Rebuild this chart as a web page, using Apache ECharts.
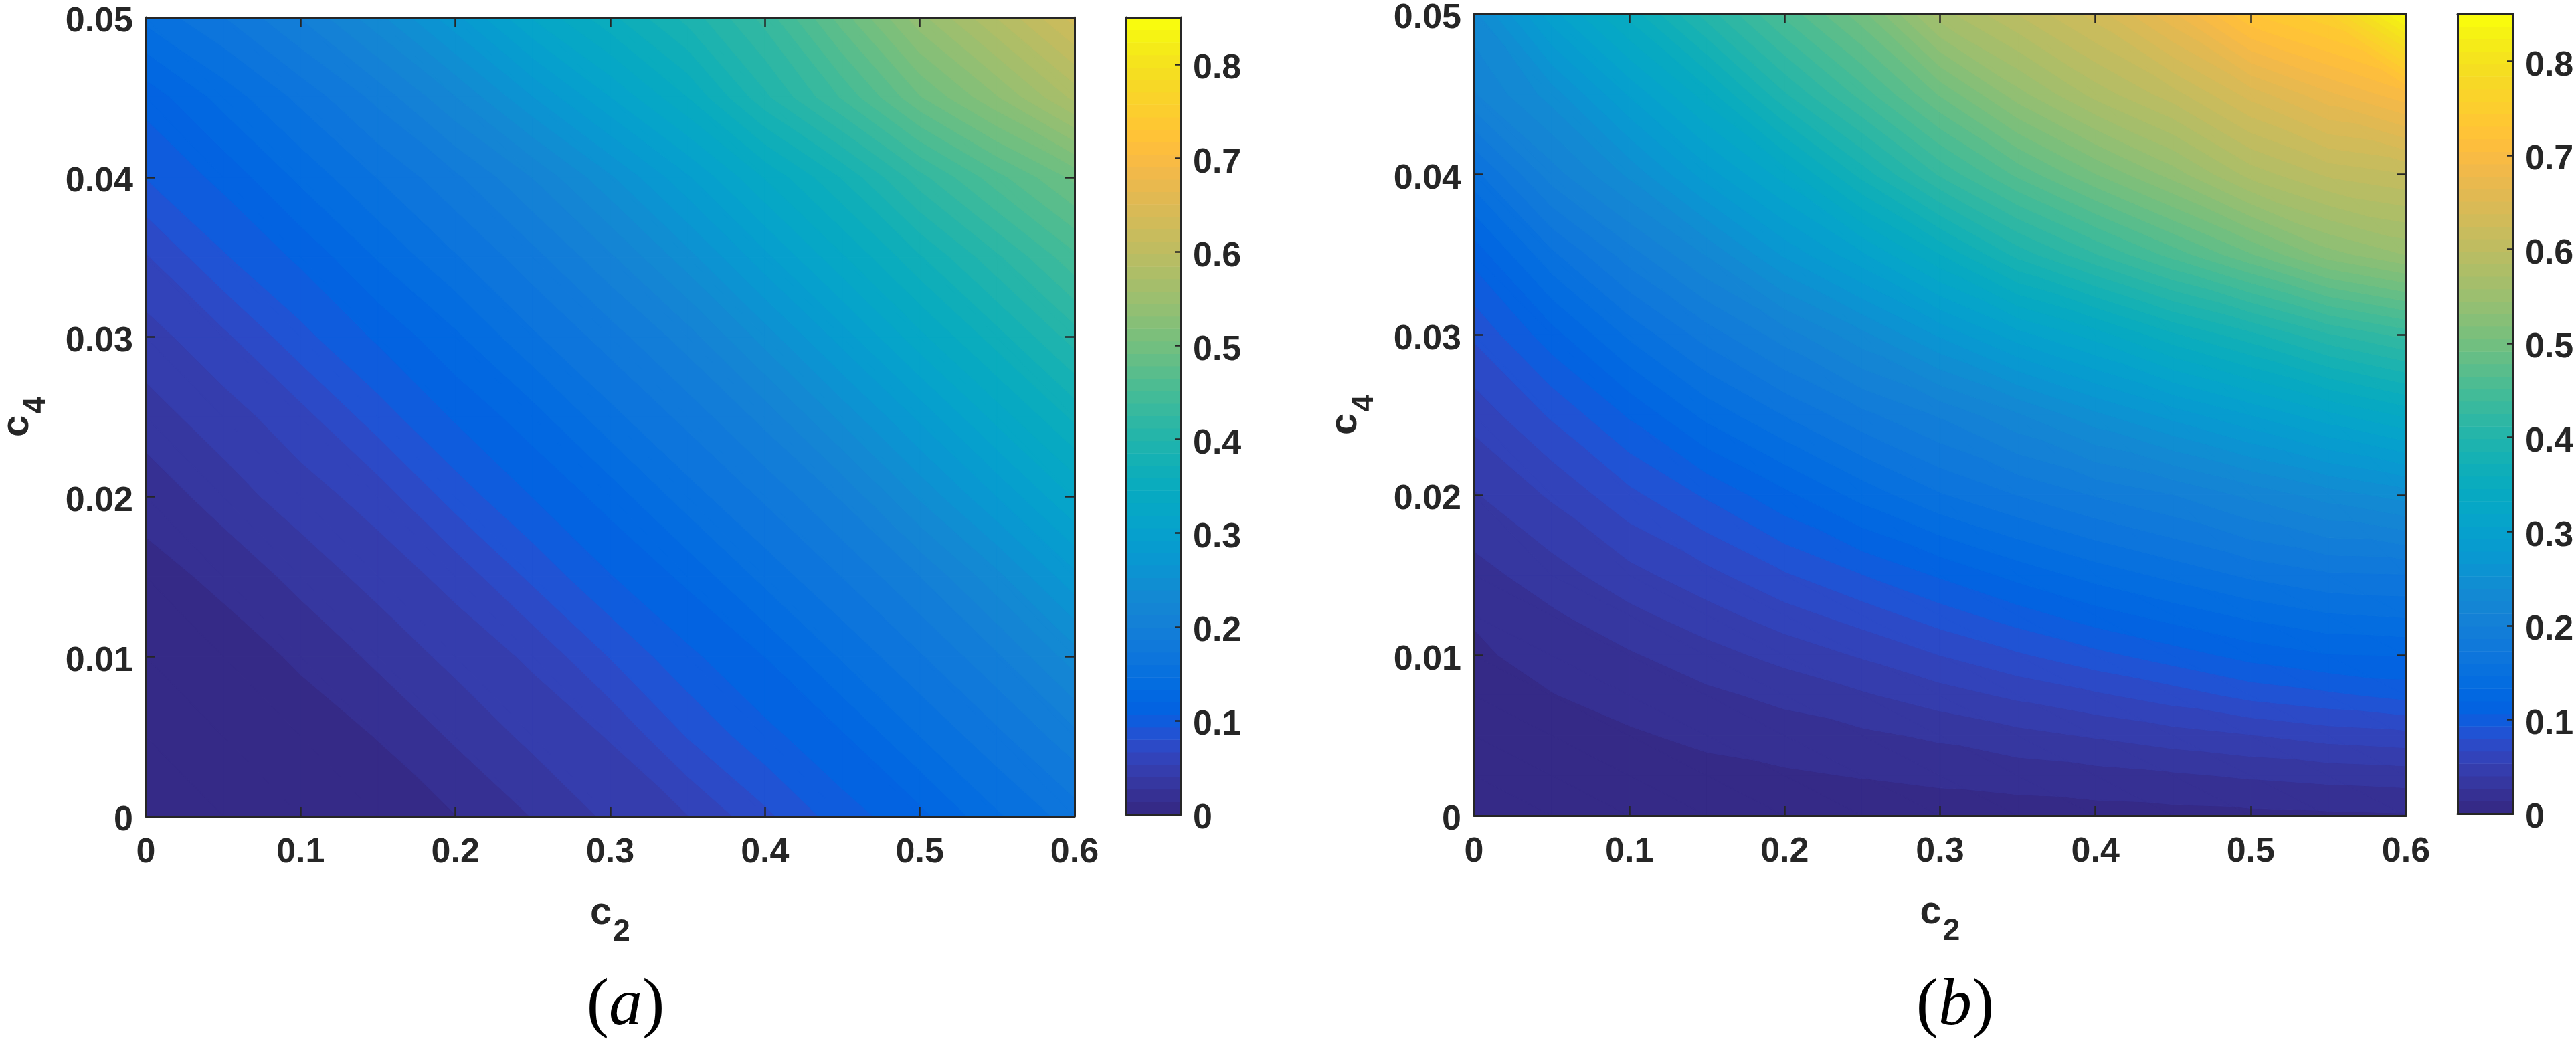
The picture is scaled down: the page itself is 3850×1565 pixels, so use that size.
<!DOCTYPE html>
<html><head><meta charset="utf-8"><title>c2 c4 contour maps</title>
<style>html,body{margin:0;padding:0;background:#fff}#chart{width:3850px;height:1565px}</style>
<script src="https://cdn.jsdelivr.net/npm/echarts@6/dist/echarts.min.js"></script>
</head><body><div id="chart"></div>
<script>
// Grid nodes of both maps
const c2Values = [0,0.05,0.1,0.15,0.2,0.25,0.3,0.35,0.4,0.45,0.5,0.55,0.6];
const c4ValuesA = [0,0.005,0.01,0.015,0.02,0.025,0.03,0.035,0.04,0.045,0.05];
const c4ValuesB = [0,0.0025,0.005,0.0075,0.01,0.0125,0.015,0.02,0.025,0.03,0.035,0.04,0.045,0.05];
// Tick labels
const c2Ticks = [0,0.1,0.2,0.3,0.4,0.5,0.6];
const c4Ticks = [0,0.01,0.02,0.03,0.04,0.05];
const barTicks = [0,0.1,0.2,0.3,0.4,0.5,0.6,0.7,0.8];
const barMax = 0.85;
// Panel (a): one row per c4 value
const a00 = [0,.002,.0037,.0081,.0129,.0271,.0426,.0526,.0763,.1004,.115,.144,.166];
const a05 = [.002,.004,.0085,.0136,.0286,.0434,.054,.0803,.102,.1175,.146,.169,.195];
const a10 = [.004,.0085,.0147,.0298,.0441,.0556,.0804,.103,.1197,.148,.171,.197,.233];
const a15 = [.0095,.0156,.0313,.0451,.0576,.0829,.1054,.1227,.1505,.173,.199,.235,.275];
const a20 = [.0171,.0333,.0468,.0589,.0855,.1065,.125,.153,.175,.201,.241,.279,.32];
const a25 = [.034,.0468,.0613,.0866,.108,.127,.155,.177,.204,.243,.282,.324,.362];
const a30 = [.0474,.0632,.0888,.1085,.13,.157,.179,.206,.245,.285,.328,.366,.405];
const a35 = [.065,.0915,.109,.134,.158,.181,.21,.247,.288,.33,.37,.409,.448];
const a40 = [.0934,.11,.136,.16,.183,.213,.25,.29,.333,.373,.42,.46,.495];
const a45 = [.111,.138,.163,.19,.225,.265,.305,.345,.395,.44,.49,.53,.575];
const a50 = [.15,.172,.20,.235,.275,.32,.355,.39,.43,.485,.54,.585,.63];
const fieldA = [a00,a05,a10,a15,a20,a25,a30,a35,a40,a45,a50];
const b000 = [0,.001,.002,.003,.004,.005,.006,.007,.008,.009,.010,.011,.012];
const b025 = [.0028,.005,.007,.0093,.0115,.014,.0166,.019,.0217,.0246,.0283,.031,.033];
const b050 = [.0055,.0084,.0117,.0162,.0201,.0239,.0288,.0357,.0412,.0474,.0525,.0588,.062];
const b075 = [.0083,.0128,.0182,.0236,.030,.038,.047,.0558,.064,.073,.0837,.09,.097];
const b100 = [.011,.0183,.025,.0345,.0444,.0546,.0664,.0777,.0888,.0998,.111,.1187,.12];
const b125 = [.0145,.0245,.036,.0476,.0607,.0727,.0866,.10,.1137,.125,.136,.1447,.148];
const b150 = [.0214,.0338,.0483,.0622,.078,.0926,.108,.124,.138,.15,.162,.1706,.172];
const b200 = [.0386,.055,.076,.095,.116,.138,.158,.173,.187,.199,.216,.232,.245];
const b250 = [.058,.0816,.108,.137,.16,.182,.201,.224,.249,.271,.2925,.315,.335];
const b300 = [.082,.114,.149,.179,.206,.235,.268,.30,.325,.356,.381,.41,.43];
const b350 = [.111,.156,.193,.227,.268,.303,.345,.39,.424,.457,.49,.525,.545];
const b400 = [.1545,.206,.242,.2855,.325,.377,.427,.468,.504,.537,.576,.60,.61];
const b450 = [.211,.245,.294,.339,.3965,.444,.493,.539,.576,.605,.643,.674,.70];
const b500 = [.235,.30,.35,.405,.455,.50,.565,.598,.63,.675,.73,.755,.845];
const fieldB = [b000,b025,b050,b075,b100,b125,b150,b200,b250,b300,b350,b400,b450,b500];
// Colour table
const parula = [[.2081,.1663,.5292],[.2116,.1898,.5777],[.2123,.2138,.6270],[.2081,.2386,.6771],[.1959,.2645,.7279],[.1707,.2919,.7792],[.1253,.3242,.8303],[.0591,.3598,.8683],[.0117,.3875,.8820],[.0060,.4086,.8828],[.0165,.4266,.8786],[.0329,.4430,.8720],[.0498,.4586,.8641],[.0629,.4737,.8554],[.0723,.4887,.8467],[.0779,.5040,.8384],[.0793,.5200,.8312],[.0749,.5375,.8263],[.0641,.5570,.8240],[.0488,.5772,.8228],[.0343,.5966,.8199],[.0265,.6137,.8135],[.0239,.6287,.8038],[.0231,.6418,.7913],[.0228,.6535,.7768],[.0267,.6642,.7607],[.0384,.6743,.7436],[.0590,.6838,.7254],[.0843,.6928,.7062],[.1133,.7015,.6859],[.1453,.7098,.6646],[.1801,.7177,.6424],[.2178,.7250,.6193],[.2586,.7317,.5954],[.3022,.7376,.5712],[.3482,.7424,.5473],[.3953,.7459,.5244],[.4420,.7481,.5033],[.4871,.7491,.4840],[.5300,.7491,.4661],[.5709,.7485,.4494],[.6099,.7473,.4337],[.6473,.7456,.4188],[.6834,.7435,.4044],[.7184,.7411,.3905],[.7525,.7384,.3768],[.7858,.7356,.3633],[.8185,.7327,.3498],[.8507,.7299,.3360],[.8824,.7274,.3217],[.9139,.7258,.3063],[.9450,.7261,.2886],[.9739,.7314,.2666],[.9938,.7455,.2403],[.9990,.7653,.2164],[.9955,.7861,.1967],[.9880,.8066,.1794],[.9789,.8271,.1633],[.9697,.8481,.1475],[.9626,.8705,.1309],[.9589,.8949,.1132],[.9598,.9218,.0948],[.9661,.9514,.0755],[.9763,.9831,.0538]];
const colours = parula.map(c => 'rgb(' + c.map(x => Math.round(x * 255)).join(',') + ')');
const bandWidth = barMax / colours.length;

// Cells of a field: corners and their four node values
function cellsOf(field, c4s) {
  const out = [];
  for (let j = 0; j + 1 < c4s.length; j++)
    for (let i = 0; i + 1 < c2Values.length; i++)
      out.push([c2Values[i], c4s[j], c2Values[i + 1], c4s[j + 1],
        field[j][i], field[j][i + 1], field[j + 1][i], field[j + 1][i + 1]]);
  return out;
}
// Keep the part of a polygon (points [x,y,v]) on one side of a level
function clip(poly, level, keepAbove) {
  const res = [];
  for (let n = 0; n < poly.length; n++) {
    const p = poly[n], q = poly[(n + 1) % poly.length];
    const pIn = keepAbove ? p[2] >= level : p[2] <= level;
    const qIn = keepAbove ? q[2] >= level : q[2] <= level;
    if (pIn) res.push(p);
    if (pIn !== qIn) {
      const t = (level - p[2]) / (q[2] - p[2]);
      res.push([p[0] + t * (q[0] - p[0]), p[1] + t * (q[1] - p[1]), level]);
    }
  }
  return res;
}
function renderCell(params, api) {
  const x0 = api.value(0), y0 = api.value(1), x1 = api.value(2), y1 = api.value(3);
  const A = [x0, y0, api.value(4)], B = [x1, y0, api.value(5)], C = [x0, y1, api.value(6)], D = [x1, y1, api.value(7)];
  const children = [];
  [[A, B, C], [B, D, C]].forEach(tri => {
    const vs = tri.map(p => p[2]);
    const lo = Math.max(0, Math.floor(Math.min.apply(null, vs) / bandWidth));
    const hi = Math.min(colours.length - 1, Math.floor(Math.max.apply(null, vs) / bandWidth));
    for (let k = lo; k <= hi; k++) {
      let poly = tri;
      if (k > 0) poly = clip(poly, k * bandWidth, true);
      if (k < colours.length - 1 && poly.length) poly = clip(poly, (k + 1) * bandWidth, false);
      if (poly.length < 3) continue;
      children.push({ type: 'polygon', silent: true,
        shape: { points: poly.map(p => api.coord([p[0], p[1]])) },
        style: { fill: colours[k], stroke: colours[k], lineWidth: 1.2 } });
    }
  });
  return { type: 'group', children };
}
function renderStripe(params, api) {
  const k = api.value(0);
  const a = api.coord([0, k * bandWidth]), b = api.coord([1, (k + 1) * bandWidth]);
  return { type: 'rect', silent: true,
    shape: { x: a[0], y: b[1], width: b[0] - a[0], height: a[1] - b[1] + 0.5 },
    style: { fill: colours[k] } };
}

const ink = '#262626';
const labelFont = { fontFamily: 'Liberation Sans', fontWeight: 'bold', fontSize: 52, color: ink };
const line = { show: true, onZero: false, lineStyle: { color: ink, width: 3 } };
const tick = { show: true, inside: true, length: 14, lineStyle: { color: ink, width: 2.5 } };
const subRich = {
  c: { fontFamily: 'Liberation Sans', fontWeight: 'bold', fontSize: 58, color: ink, lineHeight: 58, verticalAlign: 'top' },
  s: { fontFamily: 'Liberation Sans', fontWeight: 'bold', fontSize: 46, color: ink, lineHeight: 46, padding: [34, 0, 0, 2], verticalAlign: 'top' }
};
const panels = [
  { rect: { left: 218, top: 26, width: 1388, height: 1194, outerBoundsMode: 'none' }, bar: { left: 1683, top: 26, width: 82, height: 1191, outerBoundsMode: 'none' }, field: fieldA, c4s: c4ValuesA, title: 'a', cx: 930 },
  { rect: { left: 2203, top: 21, width: 1393, height: 1198, outerBoundsMode: 'none' }, bar: { left: 3673, top: 21, width: 83, height: 1195, outerBoundsMode: 'none' }, field: fieldB, c4s: c4ValuesB, title: 'b', cx: 2917 }
];
const grid = [], xAxis = [], yAxis = [], series = [], title = [];
panels.forEach((p, n) => {
  const gi = grid.length, xi = xAxis.length, yi = yAxis.length;
  grid.push(p.rect, p.bar);
  // map axes
  const xBase = { type: 'value', min: 0, max: 0.6, interval: 0.1, gridIndex: gi, z: 10, splitLine: { show: false }, axisLine: line, axisTick: tick };
  const yBase = { type: 'value', min: 0, max: 0.05, interval: 0.01, gridIndex: gi, z: 10, splitLine: { show: false }, axisLine: line, axisTick: tick };
  xAxis.push(Object.assign({}, xBase, { position: 'bottom',
    axisLabel: Object.assign({ margin: 29, customValues: c2Ticks, showMinLabel: true, showMaxLabel: true, hideOverlap: false }, labelFont),
    name: '{c|c}{s|2}', nameLocation: 'middle', nameGap: 116, nameTextStyle: { rich: subRich } }));
  xAxis.push(Object.assign({}, xBase, { position: 'top', axisLabel: { show: false } }));
  yAxis.push(Object.assign({}, yBase, { position: 'left',
    axisLabel: Object.assign({ margin: 19, verticalAlign: 'top', lineHeight: 14, customValues: c4Ticks, showMinLabel: true, showMaxLabel: true, hideOverlap: false }, labelFont),
    name: '{c|c}{s|4}', nameLocation: 'middle', nameGap: 163, nameRotate: 90, nameTextStyle: { rich: subRich } }));
  yAxis.push(Object.assign({}, yBase, { position: 'right', axisLabel: { show: false } }));
  series.push({ type: 'custom', coordinateSystem: 'cartesian2d', xAxisIndex: xi, yAxisIndex: yi, clip: true, silent: true,
    animation: false, progressive: 0, encode: { x: [0, 2], y: [1, 3] }, data: cellsOf(p.field, p.c4s), renderItem: renderCell });
  // colour bar axes
  const xBar = { type: 'value', min: 0, max: 1, gridIndex: gi + 1, z: 10, splitLine: { show: false }, axisLine: line, axisTick: { show: false }, axisLabel: { show: false } };
  xAxis.push(Object.assign({}, xBar, { position: 'bottom' }), Object.assign({}, xBar, { position: 'top' }));
  yAxis.push({ type: 'value', min: 0, max: barMax, gridIndex: gi + 1, position: 'left', z: 10, splitLine: { show: false }, axisLine: line, axisTick: { show: false }, axisLabel: { show: false } });
  yAxis.push({ type: 'value', min: 0, max: barMax, gridIndex: gi + 1, position: 'right', z: 10, splitLine: { show: false }, axisLine: line,
    axisTick: { show: true, inside: true, length: 9, lineStyle: { color: ink, width: 2.5 }, customValues: barTicks },
    axisLabel: Object.assign({ margin: 18, verticalAlign: 'top', lineHeight: 14, customValues: barTicks, hideOverlap: false }, labelFont) });
  series.push({ type: 'custom', coordinateSystem: 'cartesian2d', xAxisIndex: xi + 2, yAxisIndex: yi + 2, clip: true, silent: true,
    animation: false, progressive: 0, encode: { y: 0 }, data: colours.map((c, k) => [k]), renderItem: renderStripe });
  title.push({ text: '{p|(}{i|' + p.title + '}{p|)}', left: p.cx, top: 1450, textAlign: 'center',
    textStyle: { rich: {
      p: { fontFamily: 'Liberation Serif', fontSize: 100, color: '#000', fontWeight: 'normal' },
      i: { fontFamily: 'Liberation Serif', fontSize: 100, fontStyle: 'italic', color: '#000', fontWeight: 'normal' } } } });
});
const chart = echarts.init(document.getElementById('chart'), null, { renderer: 'canvas', devicePixelRatio: 1 });
chart.setOption({ animation: false, backgroundColor: '#fff', title, grid, xAxis, yAxis, series });
</script></body></html>
